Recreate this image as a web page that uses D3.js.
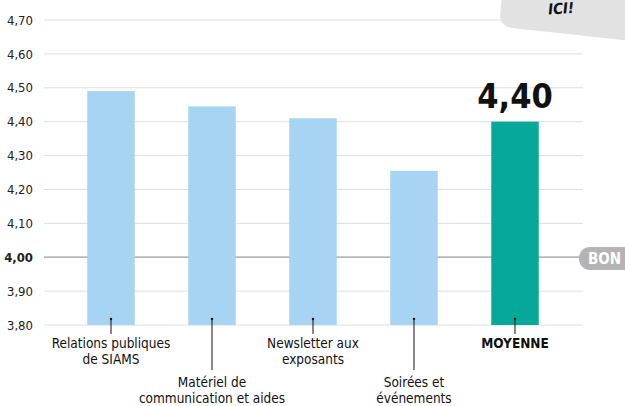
<!DOCTYPE html>
<html>
<head>
<meta charset="utf-8">
<script src="https://cdn.jsdelivr.net/npm/d3@7"></script>
<style>
  body { margin: 0; background: #fff; }
  svg { font-family: "DejaVu Sans", sans-serif; font-stretch: condensed; }
  svg text { font-stretch: condensed; }
</style>
</head>
<body>
<script>
// data
const categories = ["Relations publiques|de SIAMS", "Matériel de|communication et aides", "Newsletter aux|exposants", "Soirées et|événements", "MOYENNE"]
const values = [4.49, 4.445, 4.41, 4.255, 4.40]
const labelDrop = [0, 1, 0, 1, 0]
const tickValues = [3.8, 3.9, 4.0, 4.1, 4.2, 4.3, 4.4, 4.5, 4.6, 4.7]

const w = 625
const h = 406

const svg = d3.select("body")
  .append("svg")
  .attr("width", w)
  .attr("height", h)

const fmt = v => d3.format(".2f")(v).replace(".", ",")

// scales
const x = d3.scaleBand()
  .domain(categories)
  .range([60, 566])
  .paddingInner(0.53)
  .paddingOuter(0.27)

const y = d3.scaleLinear()
  .domain([3.8, 4.7])
  .range([325, 20])

// gridlines
svg.append("g")
  .selectAll("line")
  .data(tickValues)
  .enter()
  .append("line")
  .attr("x1", 44)
  .attr("x2", 583)
  .attr("y1", d => y(d))
  .attr("y2", d => y(d))
  .attr("stroke", d => d === 4.0 ? "#9a9a9a" : "#dedede")
  .attr("stroke-width", d => d === 4.0 ? 1.3 : 1)

// y axis labels
const yAxis = d3.axisLeft(y).tickValues(tickValues).tickFormat(fmt).tickSize(0).tickPadding(0)
const gy = svg.append("g")
  .attr("transform", "translate(33,0)")
  .call(yAxis)
gy.select(".domain").remove()
gy.selectAll("text")
  .attr("font-size", 13)
  .attr("fill", "#222")
  .attr("font-family", "DejaVu Sans, sans-serif")
  .attr("font-weight", d => d === 4.0 ? "bold" : "normal")

// bars
svg.selectAll(".bar")
  .data(categories)
  .enter()
  .append("rect")
  .attr("class", "bar")
  .attr("x", d => x(d))
  .attr("width", x.bandwidth())
  .attr("y", (d, i) => y(values[i]))
  .attr("height", (d, i) => y(3.8) - y(values[i]))
  .attr("fill", (d, i) => i === 4 ? "#05a899" : "#a6d4f2")

// little pointer ticks
svg.selectAll(".pointer")
  .data(categories)
  .enter()
  .append("line")
  .attr("x1", d => x(d) + x.bandwidth() / 2)
  .attr("x2", d => x(d) + x.bandwidth() / 2)
  .attr("y1", 318)
  .attr("y2", (d, i) => labelDrop[i] ? 370 : 334)
  .attr("stroke", "#111")
  .attr("stroke-width", 1)

svg.selectAll(".dot")
  .data(categories)
  .enter()
  .append("circle")
  .attr("cx", d => x(d) + x.bandwidth() / 2)
  .attr("cy", 319)
  .attr("r", 1.2)
  .attr("fill", "#111")

// category labels
const labels = svg.selectAll(".cat")
  .data(categories)
  .enter()
  .append("text")
  .attr("class", "cat")
  .attr("text-anchor", "middle")
  .attr("font-size", 13.5)
  .attr("fill", "#111")
  .attr("font-weight", (d, i) => i === 4 ? "bold" : "normal")

labels.selectAll("tspan")
  .data((d, i) => d.split("|").map(t => ({t: t, d: d, i: i})))
  .enter()
  .append("tspan")
  .attr("x", o => x(o.d) + x.bandwidth() / 2)
  .attr("y", (o, j) => (labelDrop[o.i] ? 387 : 348) + j * 16)
  .text(o => o.t)

// value label on average
svg.append("text")
  .attr("x", x(categories[4]) + x.bandwidth() / 2)
  .attr("y", 108)
  .attr("text-anchor", "middle")
  .attr("font-size", 34)
  .attr("font-weight", "bold")
  .attr("fill", "#111")
  .text(fmt(values[4]))

// decorative bits cut off at the right edge
svg.append("path")
  .attr("d", "M502,-5 L640,-5 L640,42 L512,28 Q500,26 500,16 Z")
  .attr("fill", "#e2e2e2")
svg.append("text")
  .attr("x", 548)
  .attr("y", 13)
  .attr("font-size", 15)
  .attr("font-style", "italic")
  .attr("font-weight", "bold")
  .attr("fill", "#111")
  .attr("transform", "rotate(-4,570,8)")
  .text("ICI!")

svg.append("rect")
  .attr("x", 579)
  .attr("y", 247)
  .attr("width", 70)
  .attr("height", 23)
  .attr("rx", 11)
  .attr("fill", "#b4b4b4")
svg.append("text")
  .attr("x", 588)
  .attr("y", 264)
  .attr("font-size", 15)
  .attr("font-weight", "bold")
  .attr("fill", "#fff")
  .text("BON")
</script>
</body>
</html>
